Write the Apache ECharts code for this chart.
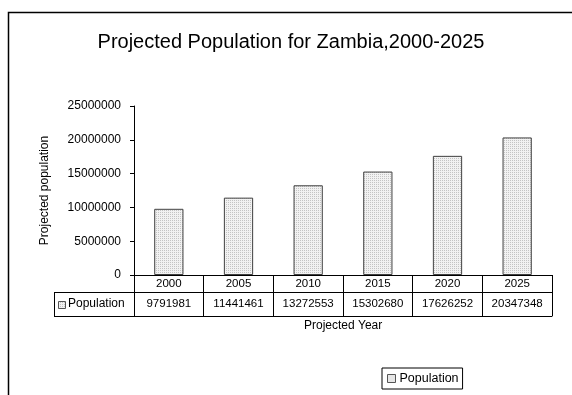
<!DOCTYPE html>
<html>
<head>
<meta charset="utf-8">
<script src="https://cdn.jsdelivr.net/npm/echarts@6/dist/echarts.min.js"></script>
<style>
  html, body { margin: 0; padding: 0; background: #fff; }
  #chart { width: 572px; height: 395px; }
</style>
</head>
<body>
<div id="chart"></div>
<script>
// Projected population of Zambia, five-year steps
const years = ['2000', '2005', '2010', '2015', '2020', '2025'];
const population = [9791981, 11441461, 13272553, 15302680, 17626252, 20347348];
const yTicks = [0, 5000000, 10000000, 15000000, 20000000, 25000000];
const seriesName = 'Population';

const FONT = '"Liberation Sans", Arial, sans-serif';

// fine dotted fill for the bars
function dotPattern() {
  const c = document.createElement('canvas');
  c.width = 2; c.height = 2;
  const g = c.getContext('2d');
  g.fillStyle = '#f2f2f2';
  g.fillRect(0, 0, 2, 2);
  g.fillStyle = '#c4c4c4';
  g.fillRect(0, 0, 1, 1);
  return { image: c, repeat: 'repeat' };
}
const fill = dotPattern();

const gridLeft = 134, gridRight = 552, gridTop = 106, gridBottom = 275;
const rowH1 = 17, rowH2 = 24;
const tableLeft = 54;

const chart = echarts.init(document.getElementById('chart'));
chart.setOption({
  animation: false,
  backgroundColor: '#fff',
  title: {
    text: 'Projected Population for Zambia,2000-2025',
    left: 286, top: 27, textAlign: 'center',
    textStyle: { fontFamily: FONT, fontSize: 20, fontWeight: 'normal', color: '#000' }
  },
  legend: {
    data: [seriesName],
    left: 382, top: 368,
    icon: 'rect', itemWidth: 8, itemHeight: 8, itemGap: 4,
    padding: [4, 4, 4, 5],
    borderColor: '#000', borderWidth: 1,
    itemStyle: { borderColor: '#555', borderWidth: 1 },
    textStyle: { fontFamily: FONT, fontSize: 12.5, color: '#000', padding: [0, 0, 0, -1] }
  },
  grid: { left: gridLeft, right: 572 - gridRight, top: gridTop, bottom: 395 - gridBottom, containLabel: false },
  xAxis: [
    {
      type: 'category', data: years, position: 'bottom',
      axisLine: { show: true, lineStyle: { color: '#000', width: 1 } },
      axisTick: { show: true, alignWithLabel: false, length: rowH1 + rowH2, lineStyle: { color: '#000' } },
      axisLabel: { fontFamily: FONT, fontSize: 11.5, color: '#000', margin: 3 },
      splitLine: { show: false }
    },
    {
      type: 'category', data: years, position: 'bottom', offset: rowH1,
      axisLine: { show: true, lineStyle: { color: '#000', width: 1 } },
      axisTick: { show: false },
      axisLabel: {
        fontFamily: FONT, fontSize: 11.5, color: '#000', margin: 6,
        formatter: (v, i) => String(population[i])
      }
    },
    {
      type: 'category', data: years, position: 'bottom', offset: rowH1 + rowH2,
      axisLine: { show: true, lineStyle: { color: '#000', width: 1 } },
      axisTick: { show: false }, axisLabel: { show: false }
    }
  ],
  yAxis: {
    type: 'value', min: 0, max: 25000000, interval: 5000000,
    name: 'Projected population', nameLocation: 'middle', nameGap: 83, nameRotate: 90,
    nameTextStyle: { fontFamily: FONT, fontSize: 12, color: '#000' },
    axisLine: { show: true, lineStyle: { color: '#000', width: 1 } },
    axisTick: { show: true, length: 4, lineStyle: { color: '#000' } },
    axisLabel: {
      fontFamily: FONT, fontSize: 12, color: '#000', margin: 13,
      formatter: v => (yTicks.indexOf(v) >= 0 ? String(v) : '')
    },
    splitLine: { show: false }
  },
  series: [{
    name: seriesName, type: 'bar', data: population, barWidth: '42%',
    itemStyle: { color: fill, borderColor: '#404040', borderWidth: 1 }
  }],
  graphic: [
    // outer chart frame
    { type: 'rect', shape: { x: 8.5, y: 12.5, width: 700, height: 500 }, style: { fill: null, stroke: '#000', lineWidth: 1.5 }, silent: true },
    // data table: series-name cell
    { type: 'line', shape: { x1: tableLeft, y1: gridBottom + rowH1 + 0.5, x2: gridLeft, y2: gridBottom + rowH1 + 0.5 }, style: { stroke: '#000', lineWidth: 1 } },
    { type: 'line', shape: { x1: tableLeft, y1: gridBottom + rowH1 + rowH2 + 0.5, x2: gridLeft, y2: gridBottom + rowH1 + rowH2 + 0.5 }, style: { stroke: '#000', lineWidth: 1 } },
    { type: 'line', shape: { x1: tableLeft + 0.5, y1: gridBottom + rowH1, x2: tableLeft + 0.5, y2: gridBottom + rowH1 + rowH2 + 1 }, style: { stroke: '#000', lineWidth: 1 } },
    { type: 'rect', shape: { x: 58.5, y: 301.5, width: 7, height: 7 }, style: { fill: fill, stroke: '#555', lineWidth: 1 } },
    { type: 'text', left: 68, top: 298, style: { text: seriesName, font: '12px ' + FONT, fill: '#000' } },
    // x axis title
    { type: 'text', left: 304, top: 320, style: { text: 'Projected Year', font: '12px ' + FONT, fill: '#000' } }
  ]
});
</script>
</body>
</html>
